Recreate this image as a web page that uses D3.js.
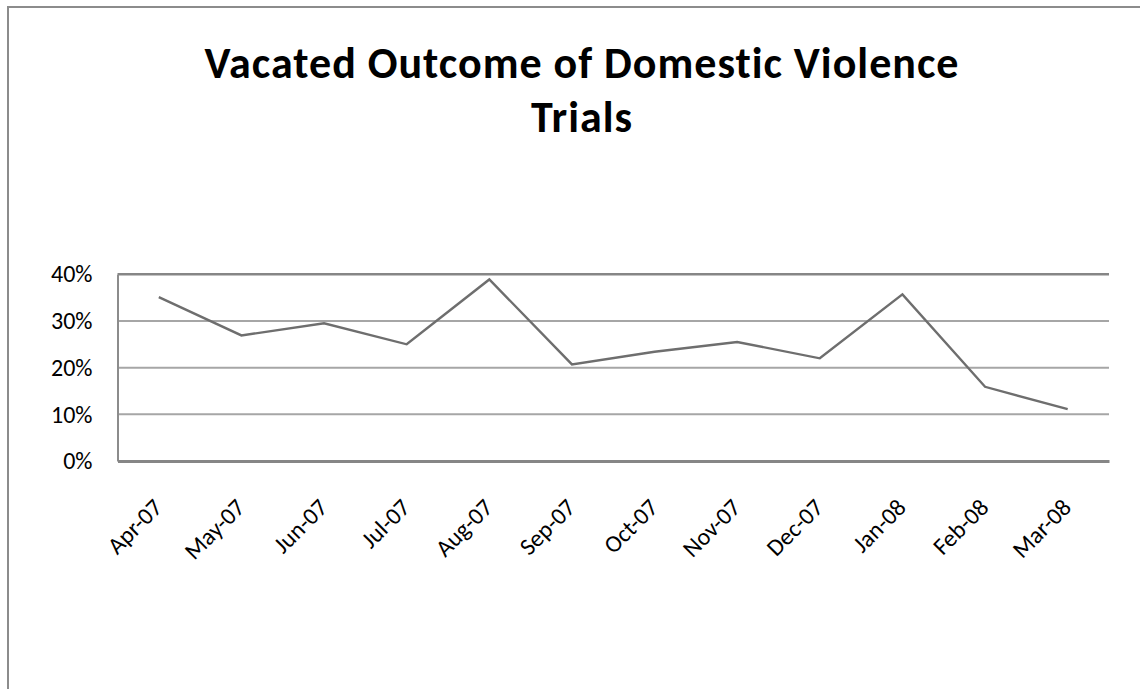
<!DOCTYPE html>
<html>
<head>
<meta charset="utf-8">
<script src="https://cdn.jsdelivr.net/npm/d3@7"></script>
<style>
  body { margin: 0; background: #fff; }
  svg { display: block; }
</style>
</head>
<body>
<svg id="chart" width="1140" height="689"></svg>
<script>
// chart data
const months = ["Apr-07", "May-07", "Jun-07", "Jul-07", "Aug-07", "Sep-07",
                "Oct-07", "Nov-07", "Dec-07", "Jan-08", "Feb-08", "Mar-08"]
const vacated = [0.351, 0.269, 0.295, 0.250, 0.389, 0.207,
                 0.234, 0.255, 0.220, 0.357, 0.159, 0.111]
const yTicks = [0, 0.1, 0.2, 0.3, 0.4]
const titleLines = ["Vacated Outcome of Domestic Violence", "Trials"]

const svg = d3.select("#chart")
const font = "Carlito, 'Open Sans', Roboto, sans-serif"

// outer frame (only top and left edges show)
svg.append("path")
    .attr("d", "M8,689 L8,7 L1140,7")
    .attr("fill", "none")
    .attr("stroke", "#8c8c8c")
    .attr("stroke-width", 2)

// title, one text per line
svg.selectAll(".title").data(titleLines).enter().append("text")
    .attr("class", "title")
    .attr("x", 582)
    .attr("y", (d, i) => 78 + i * 54)
    .attr("text-anchor", "middle")
    .style("font-family", font)
    .style("font-weight", "bold")
    .style("font-size", "44px")
    .style("letter-spacing", "1px")
    .text(d => d)

const plotLeft = 117.5, plotRight = 1109, plotTop = 274.3, plotBottom = 461

var x = d3.scaleBand().domain(months).range([plotLeft, plotRight])
var y = d3.scaleLinear().domain([0, 0.4]).range([plotBottom, plotTop])

// gridlines
svg.append("g").selectAll("line").data(yTicks.filter(d => d > 0 && d < 0.4)).enter().append("line")
    .attr("x1", plotLeft).attr("x2", plotRight)
    .attr("y1", d => y(d)).attr("y2", d => y(d))
    .attr("stroke", "#a6a6a6")
    .attr("stroke-width", 2)

// top edge of plot area
svg.append("line")
    .attr("x1", plotLeft).attr("x2", plotRight)
    .attr("y1", y(0.4)).attr("y2", y(0.4))
    .attr("stroke", "#868686").attr("stroke-width", 2.5)

// y axis
var yAxis = svg.append("g")
    .attr("transform", "translate(" + plotLeft + ",0)")
    .call(d3.axisLeft(y).tickValues(yTicks).tickFormat(d3.format(".0%")).tickSize(0).tickPadding(25))
yAxis.select(".domain").attr("stroke", "#8c8c8c").attr("stroke-width", 2)
yAxis.selectAll("text")
    .style("font-family", font)
    .style("font-size", "24px")
    .attr("fill", "#000")

// x axis
var xAxis = svg.append("g")
    .attr("transform", "translate(0," + plotBottom + ")")
    .call(d3.axisBottom(x).tickSize(0))
xAxis.select(".domain").attr("stroke", "#868686").attr("stroke-width", 3)
xAxis.selectAll("text")
    .style("font-family", font)
    .style("font-size", "24px")
    .attr("fill", "#000")
    .style("text-anchor", "end")
    .attr("y", 0)
    .attr("dy", "0.35em")
    .attr("transform", "translate(-1,42) rotate(-45)")

// the series line
var line = d3.line()
    .x((d, i) => x(months[i]) + x.bandwidth() / 2)
    .y(d => y(d))

svg.append("path")
    .datum(vacated)
    .attr("d", line)
    .attr("fill", "none")
    .attr("stroke", "#6e6e6e")
    .attr("stroke-width", 2.4)
</script>
</body>
</html>
